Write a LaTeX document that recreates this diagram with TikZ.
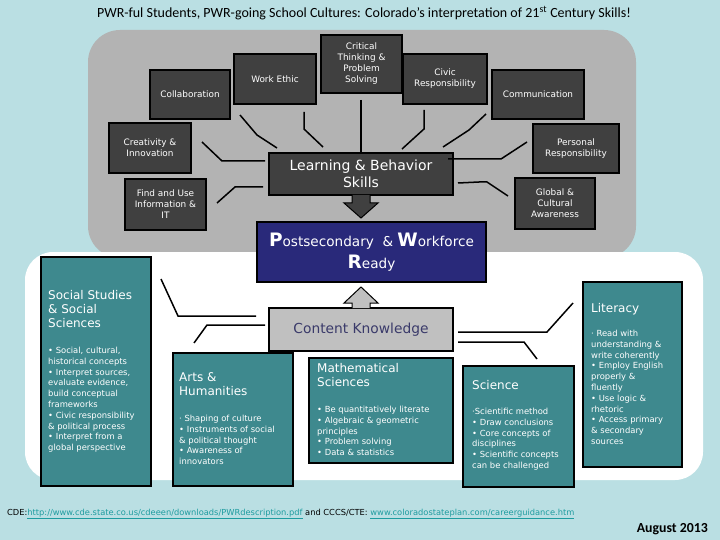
\documentclass[tikz,border=0pt]{standalone}
\usepackage{fontspec}
\setmainfont{DejaVu Sans}
\newfontfamily\titlefont{Carlito}
\usetikzlibrary{calc}
\definecolor{bgblue}{HTML}{BADFE3}
\definecolor{regiongray}{HTML}{B3B3B3}
\definecolor{darkbox}{HTML}{404040}
\definecolor{navybox}{HTML}{29297A}
\definecolor{tealbox}{HTML}{3E898E}
\definecolor{contentgray}{HTML}{C0C0C0}
\definecolor{contenttext}{HTML}{3A3A6A}
\definecolor{linkteal}{HTML}{1E9CA0}
\tikzset{
  dbox/.style={draw=black, line width=1.5pt, fill=darkbox, text=white,
    font=\fontsize{8.9}{11}\selectfont, align=center, inner sep=0pt},
  tbox/.style={draw=black, line width=1.5pt, fill=tealbox, inner sep=0pt},
  ttitle/.style={anchor=north west, inner sep=0pt, text=white,
    font=\fontsize{12}{14}\selectfont, align=left},
  tbullet/.style={anchor=north west, inner sep=0pt, text=white,
    font=\fontsize{8.4}{10.8}\selectfont, align=left},
  conn/.style={line width=1.5pt, draw=black, line join=miter},
  arrowshape/.style={draw=black, line width=1pt, line join=miter},
}
\begin{document}
\begin{tikzpicture}[x=1pt, y=-1pt]
\useasboundingbox (0,0) rectangle (720,540);
\fill[bgblue] (0,0) rectangle (720,540);

% title
\node[font=\titlefont\fontsize{14}{16}\selectfont, inner sep=0pt] (title) at (364,13)
  {PWR-ful Students, PWR-going School Cultures: Colorado’s interpretation of 21\textsuperscript{st} Century Skills!};

% gray region
\fill[regiongray, rounded corners=32pt] (88,30) rectangle (636,258);

% upper connectors
\coordinate (ca1) at (240,115); \coordinate (ca2) at (257,135); \coordinate (ca3) at (277,148);
\coordinate (wa1) at (304,112); \coordinate (wa2) at (304,129); \coordinate (wa3) at (323,147);
\coordinate (ta1) at (361,100);
\coordinate (cr1) at (202,142); \coordinate (cr2) at (222,161); \coordinate (cr3) at (265,161);
\coordinate (fi1) at (217,203); \coordinate (fi2) at (235,187); \coordinate (fi3) at (263,187);
\coordinate (cv1) at (424,110); \coordinate (cv2) at (424,129); \coordinate (cv3) at (402,149);
\coordinate (cm1) at (486,114); \coordinate (cm2) at (469,130); \coordinate (cm3) at (443,147);
\coordinate (pr1) at (527,142); \coordinate (pr2) at (501,159); \coordinate (pr3) at (448,159);
\coordinate (gl1) at (508,196); \coordinate (gl2) at (487,182); \coordinate (gl3) at (479,182); \coordinate (gl4) at (458,183);

% dark boxes
\node[dbox, minimum width=80pt, minimum height=49pt] (collab) at (190,94.5) {Collaboration};
\node[dbox, minimum width=82pt, minimum height=50pt] (work) at (275,79) {Work Ethic};
\node[dbox, minimum width=81pt, minimum height=58pt] (crit) at (361.5,64) {Critical\\Thinking \&\\Problem\\Solving};
\node[dbox, minimum width=84pt, minimum height=50pt] (civic) at (445,79) {Civic\\Responsibility};
\node[dbox, minimum width=92pt, minimum height=49pt] (comm) at (538,94.5) {Communication};
\node[dbox, minimum width=82pt, minimum height=50pt] (creat) at (150,148) {Creativity \&\\Innovation};
\node[dbox, minimum width=81pt, minimum height=51pt] (find) at (165.5,204.5) {Find and Use\\Information \&\\IT};
\node[dbox, minimum width=86pt, minimum height=49pt] (pers) at (576,148.5) {Personal\\Responsibility};
\node[dbox, minimum width=80pt, minimum height=51pt] (glob) at (555,203.5) {Global \&\\Cultural\\Awareness};
\node[dbox, minimum width=184pt, minimum height=42pt, font=\fontsize{14}{17}\selectfont] (lb) at (361,174) {Learning \& Behavior\\Skills};

\draw[conn] (ca1) -- (ca2) -- (ca3);
\draw[conn] (wa1) -- (wa2) -- (wa3);
\draw[conn] (ta1) -- (lb.north);
\draw[conn] (cr1) -- (cr2) -- (cr3);
\draw[conn] (fi1) -- (fi2) -- (fi3);
\draw[conn] (cv1) -- (cv2) -- (cv3);
\draw[conn] (cm1) -- (cm2) -- (cm3);
\draw[conn] (pr1) -- (pr2) -- (pr3);
\draw[conn] (gl1) -- (gl2) -- (gl3) -- (gl4);

% down arrow
\draw[arrowshape, fill=darkbox] (352,195) -- (352,203) -- (344,203) -- (361,218) -- (378,203) -- (370,203) -- (370,195);

% white region
\fill[white, rounded corners=28pt] (25,252) rectangle (703,480);

% postsecondary
\node[draw=black, line width=1.5pt, fill=navybox, text=white, inner sep=0pt,
  minimum width=229pt, minimum height=60pt, align=center,
  font=\fontsize{13.6}{22}\selectfont] (pwr) at (371.5,252)
  {{\fontsize{18.5}{18}\selectfont\bfseries P}ostsecondary\ \ \& {\fontsize{18.5}{18}\selectfont\bfseries W}orkforce\\{\fontsize{18.5}{18}\selectfont\bfseries R}eady};

% content knowledge
\node[draw=black, line width=1.5pt, fill=contentgray, text=contenttext, inner sep=0pt,
  minimum width=184pt, minimum height=43pt, font=\fontsize{13.8}{15}\selectfont] (ck) at (361,329.5) {Content Knowledge};
\draw[arrowshape, fill=contentgray] (352,308) -- (352,303) -- (344,303) -- (361,287) -- (378,303) -- (370,303) -- (370,308);

% teal boxes
\node[tbox, minimum width=110pt, minimum height=229pt] (soc) at (96,371.5) {};
\node[tbox, minimum width=120pt, minimum height=133pt] (arts) at (233,419.5) {};
\node[tbox, minimum width=144pt, minimum height=105pt] (math) at (381,410.5) {};
\node[tbox, minimum width=111pt, minimum height=121pt] (sci) at (518.5,426.5) {};
\node[tbox, minimum width=99pt, minimum height=185pt] (lit) at (632.5,374.5) {};

\node[ttitle] (soct) at (48,290) {Social Studies\\\& Social\\Sciences};
\node[tbullet] (socb) at (48,347) {• Social, cultural,\\historical concepts\\• Interpret sources,\\evaluate evidence,\\build conceptual\\frameworks\\• Civic responsibility\\\& political process\\• Interpret from a\\global perspective};
\node[ttitle] (artst) at (179,372) {Arts \&\\Humanities};
\node[tbullet] (artsb) at (179,415) {· Shaping of culture\\• Instruments of social\\\& political thought\\• Awareness of\\innovators};
\node[ttitle] (matht) at (317,363) {Mathematical\\Sciences};
\node[tbullet] (mathb) at (317,406) {• Be quantitatively literate\\• Algebraic \& geometric\\principles\\• Problem solving\\• Data \& statistics};
\node[ttitle] (scit) at (472,380) {Science};
\node[tbullet] (scib) at (472,408) {·Scientific method\\• Draw conclusions\\• Core concepts of\\disciplines\\• Scientific concepts\\can be challenged};
\node[ttitle] (litt) at (591,303) {Literacy};
\node[tbullet] (litb) at (591,330) {· Read with\\understanding \&\\write coherently\\• Employ English\\properly \&\\fluently\\• Use logic \&\\rhetoric\\• Access primary\\\& secondary\\sources};

% lower connectors
\coordinate (so1) at (161,279); \coordinate (so2) at (178,316); \coordinate (so3) at (256,316);
\coordinate (ar1) at (194,343); \coordinate (ar2) at (207,325); \coordinate (ar3) at (265,325);
\coordinate (li1) at (458,332); \coordinate (li2) at (547,332); \coordinate (li3) at (573,303);
\coordinate (sc1) at (458,342); \coordinate (sc2) at (524,342); \coordinate (sc3) at (537,359);
\draw[conn] (so1) -- (so2) -- (so3);
\draw[conn] (ar1) -- (ar2) -- (ar3);
\draw[conn] (li1) -- (li2) -- (li3);
\draw[conn] (sc1) -- (sc2) -- (sc3);

% footer
\node[anchor=base west, inner sep=0pt, font=\fontsize{8.3}{10}\selectfont] (foot) at (7,515)
  {CDE:\textcolor{linkteal}{\underline{http://www.cde.state.co.us/cdeeen/downloads/PWRdescription.pdf}} and CCCS/CTE: \textcolor{linkteal}{\underline{www.coloradostateplan.com/careerguidance.htm}}};
\node[anchor=base east, inner sep=0pt, font=\titlefont\bfseries\fontsize{13.8}{15}\selectfont] (date) at (708,532) {August 2013};
\end{tikzpicture}
\end{document}
